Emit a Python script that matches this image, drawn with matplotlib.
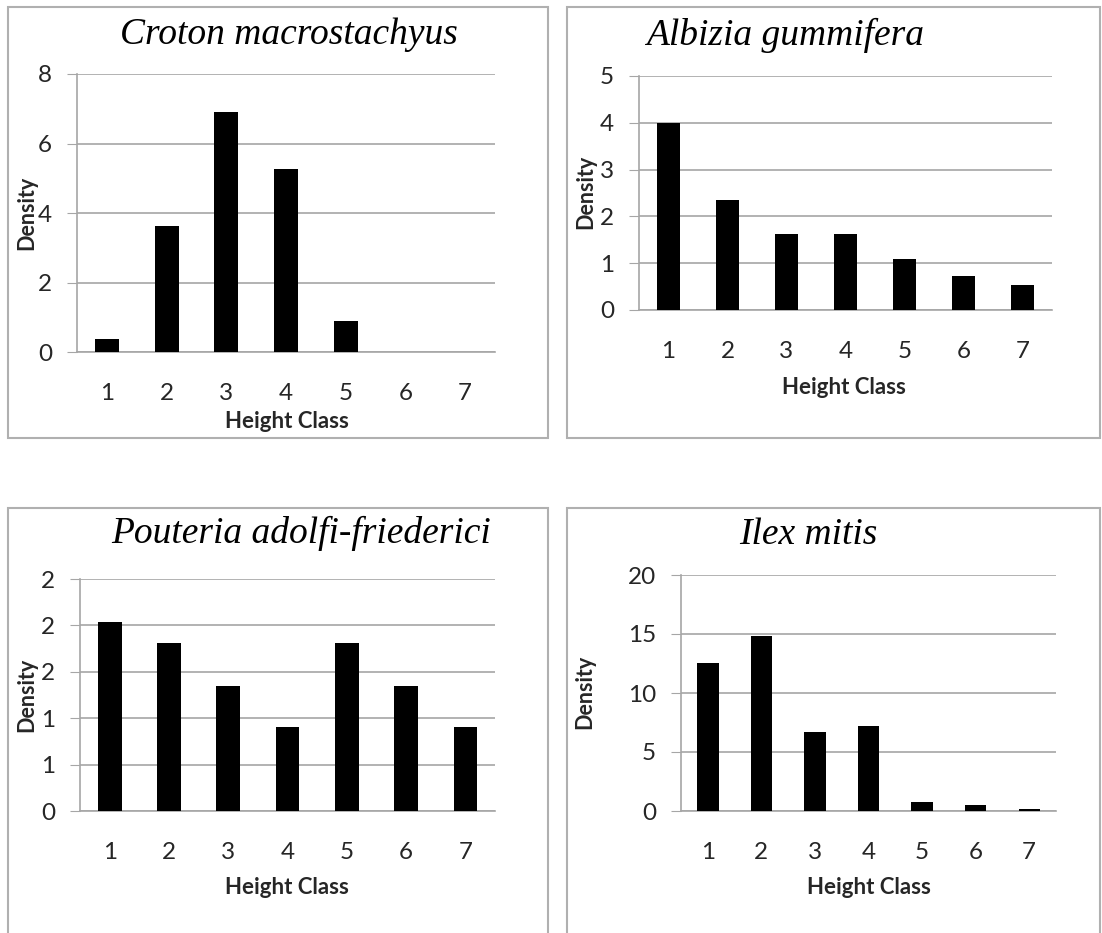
import matplotlib
matplotlib.use("Agg")
import matplotlib.pyplot as plt

W, H = 1102, 933

classes = [1, 2, 3, 4, 5, 6, 7]
class_labels = ["1", "2", "3", "4", "5", "6", "7"]

titles = ["Croton macrostachyus", "Albizia gummifera",
          "Pouteria adolfi-friederici", "Ilex mitis"]

croton = [0.37, 3.63, 6.90, 5.26, 0.89, 0.0, 0.0]
albizia = [4.00, 2.35, 1.63, 1.63, 1.08, 0.73, 0.53]
pouteria = [2.04, 1.81, 1.345, 0.90, 1.81, 1.345, 0.90]
ilex = [12.55, 14.84, 6.66, 7.22, 0.79, 0.48, 0.17]

croton_yticks = [0, 2, 4, 6, 8]
croton_ylabels = ["0", "2", "4", "6", "8"]
albizia_yticks = [0, 1, 2, 3, 4, 5]
albizia_ylabels = ["0", "1", "2", "3", "4", "5"]
pouteria_yticks = [0, 0.5, 1.0, 1.5, 2.0, 2.5]
pouteria_ylabels = ["0", "1", "1", "2", "2", "2"]
ilex_yticks = [0, 5, 10, 15, 20]
ilex_ylabels = ["0", "5", "10", "15", "20"]

series = [croton, albizia, pouteria, ilex]
yticks = [croton_yticks, albizia_yticks, pouteria_yticks, ilex_yticks]
ylabels = [croton_ylabels, albizia_ylabels, pouteria_ylabels, ilex_ylabels]

# layout in pixels (left, top, right, bottom)
axes_px = [(77, 74, 495, 352), (639, 76, 1052, 310),
           (80, 579, 495, 811), (681, 575, 1056, 811)]
panel_px = [(8, 7, 548, 438), (567, 7, 1100, 438),
            (8, 508, 548, 960), (567, 508, 1100, 960)]
title_px = [(289, 35), (785, 35), (301, 533), (808, 535)]
xlabel_px = [(287, 421), (844, 388), (287, 887), (869, 887)]
ylabel_px = [(27, 213), (586, 192), (27, 695), (585, 692)]

fig = plt.figure(figsize=(W / 100, H / 100), dpi=100)
fig.patch.set_facecolor("white")

def fx(x):
    return x / W

def fy(y):
    return 1 - y / H

grid_c = "#a6a6a6"
text_c = "#262626"
sans = ["Lato", "DejaVu Sans"]
serif = ["Liberation Serif", "DejaVu Serif"]

for i in range(4):
    # panel border
    l, t, r, b = panel_px[i]
    rect = plt.Rectangle((fx(l), fy(b)), fx(r) - fx(l), fy(t) - fy(b),
                         transform=fig.transFigure, fill=False,
                         edgecolor="#b0b0b0", lw=1.5, zorder=0)
    fig.add_artist(rect)

    l, t, r, b = axes_px[i]
    ax = fig.add_axes([fx(l), fy(b), fx(r) - fx(l), fy(t) - fy(b)])
    ax.bar(classes, series[i], width=0.4, color="black", zorder=3)
    ax.set_xlim(0.5, 7.5)
    ax.set_ylim(yticks[i][0], yticks[i][-1])
    ax.set_yticks(yticks[i])
    ax.set_yticklabels(ylabels[i], fontfamily=sans, fontsize=17.5, color=text_c)
    ax.set_xticks(classes)
    ax.set_xticklabels(class_labels, fontfamily=sans, fontsize=17.5, color=text_c)
    ax.tick_params(axis="y", length=7, color=grid_c, pad=11)
    ax.tick_params(axis="x", length=0, pad=22)
    ax.yaxis.grid(True, color=grid_c, lw=1.2, zorder=0)
    ax.set_axisbelow(True)
    for s in ["top", "right"]:
        ax.spines[s].set_visible(False)
    ax.spines["left"].set_color(grid_c)
    ax.spines["bottom"].set_color(grid_c)
    ax.spines["left"].set_linewidth(1.2)
    ax.spines["bottom"].set_linewidth(1.2)

    tx, ty = title_px[i]
    fig.text(fx(tx), fy(ty), titles[i], ha="center", va="center",
             fontfamily=serif, fontstyle="italic", fontsize=27, color="black")
    xx, xy = xlabel_px[i]
    fig.text(fx(xx), fy(xy), "Height Class", ha="center", va="center",
             fontfamily=sans, fontweight="bold", fontsize=16, color=text_c)
    yx, yy = ylabel_px[i]
    fig.text(fx(yx), fy(yy), "Density", ha="center", va="center", rotation=90,
             fontfamily=sans, fontweight="bold", fontsize=15.5, color=text_c)

fig.savefig("out.png", dpi=100, facecolor="white")
